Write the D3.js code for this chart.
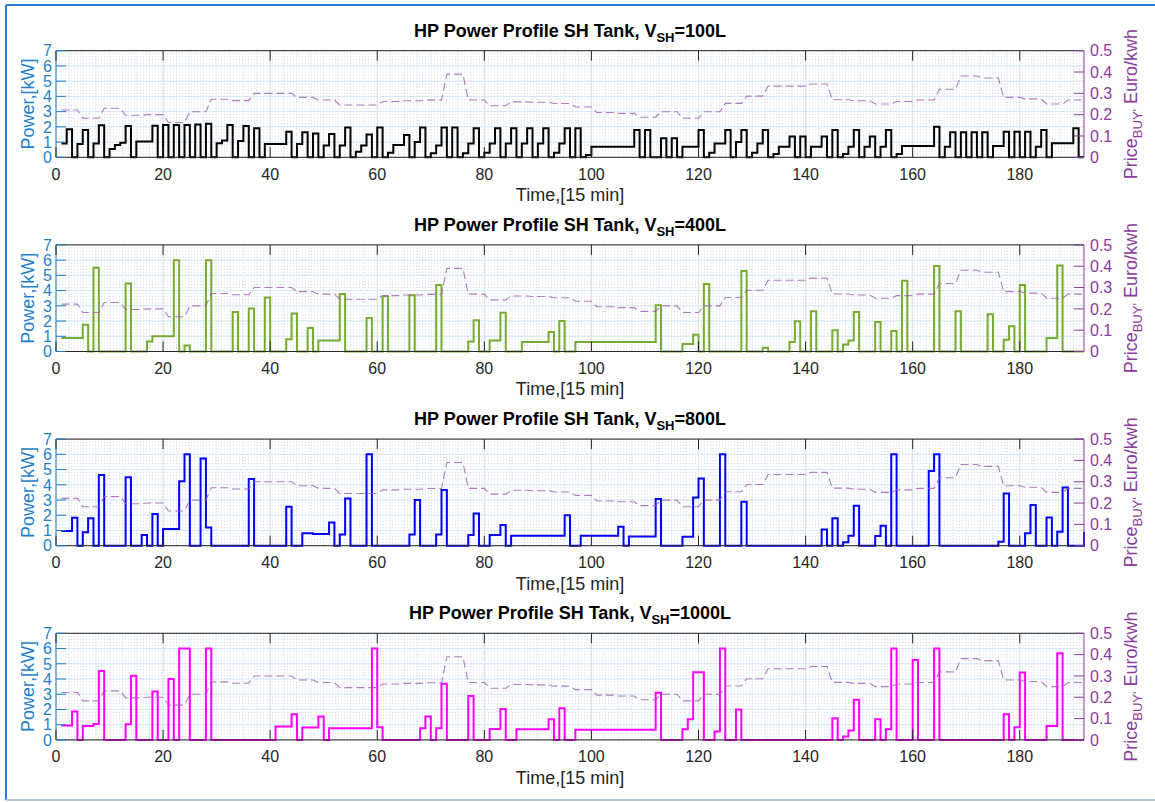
<!DOCTYPE html>
<html lang="en">
<head>
<meta charset="utf-8">
<title>HP Power Profile SH Tank</title>
<script src="https://cdn.jsdelivr.net/npm/d3@7"></script>
<style>
  body { margin: 0; background: #fff; }
  svg text { font-family: "Liberation Sans", Arial, sans-serif; }
</style>
</head>
<body>
<svg id="chart" width="1155" height="802"></svg>
<script>
// time steps (15 min), 1..192
var steps = d3.range(1, 193);

// buy price, Euro/kWh
var priceBuy = [
  0.222,0.222,0.222,0.222, 0.183,0.183,0.183,0.183, 0.23,0.23,0.23,0.23, 0.197,0.197,0.197,0.197,
  0.2,0.2,0.2,0.2, 0.163,0.163,0.163,0.163, 0.214,0.214,0.214,0.214, 0.272,0.272,0.272,0.272,
  0.266,0.266,0.266,0.266, 0.3,0.3,0.3,0.3, 0.3,0.3,0.3,0.3, 0.281,0.281,0.281,0.281,
  0.269,0.269,0.269,0.269, 0.245,0.245,0.245,0.245, 0.245,0.245,0.245,0.245, 0.262,0.262,0.262,0.262,
  0.265,0.265,0.265,0.265, 0.268,0.268,0.268,0.268, 0.39,0.39,0.39,0.39, 0.269,0.269,0.269,0.269,
  0.242,0.242,0.242,0.242, 0.26,0.26,0.26,0.26, 0.258,0.258,0.258,0.258, 0.252,0.252,0.252,0.252,
  0.236,0.236,0.236,0.236, 0.21,0.21,0.21,0.21, 0.206,0.206,0.206,0.206, 0.188,0.188,0.188,0.188,
  0.214,0.214,0.214,0.214, 0.183,0.183,0.183,0.183, 0.214,0.214,0.214,0.214, 0.253,0.253,0.253,0.253,
  0.287,0.287,0.287,0.287, 0.334,0.334,0.334,0.334, 0.334,0.334,0.334,0.334, 0.344,0.344,0.344,0.344,
  0.27,0.27,0.27,0.27, 0.265,0.265,0.265,0.265, 0.25,0.25,0.25,0.25, 0.262,0.262,0.262,0.262,
  0.269,0.269,0.269,0.269, 0.319,0.319,0.319,0.319, 0.381,0.381,0.381,0.381, 0.372,0.372,0.372,0.372,
  0.281,0.281,0.281,0.281, 0.274,0.274,0.274,0.274, 0.25,0.25,0.25,0.25, 0.269,0.269,0.269,0.269
];

// HP power, kW
var power100 = [
  0.9,1.85,0,0.88,1.8,0,0.9,2.1,0,0.55,0.8,0.95,2.05,0,1.03,1.03,
  1.03,2.08,0,2.12,0,2.12,0,2.12,0,2.15,0,2.2,0,0.92,1.1,2.12,
  0,1.07,2.05,0,1.9,0,0.88,0.88,0.88,0.88,1.68,0,0.88,1.64,0,1.57,
  0,0.77,1.53,0,0.77,1.95,0,0.37,0.77,1.5,0,1.95,0,0.3,0.8,0.8,
  1.47,0,1.0,1.95,0,0.26,0.77,1.95,0,1.95,0,0.26,0.9,1.9,0,0.3,
  0.9,1.9,0,0.9,1.9,0,0.9,1.9,0,0.9,1.9,0,0.3,0.9,1.9,0,
  1.9,0,0.15,0.7,0.7,0.7,0.7,0.7,0.7,0.7,0.7,1.8,0,1.8,0,0,
  1.25,0,1.25,0,0.7,0.7,0.7,1.8,0,0.3,0.9,0.9,1.8,0,1.0,1.8,
  0,0.3,0.9,1.8,0,0.22,0.7,0.7,1.36,0,1.36,0,0.7,0.7,1.36,0,
  1.8,0,0.22,0.7,1.8,0,0.7,1.36,0,0.7,1.8,0,0.22,0.74,0.74,0.74,
  0.74,0.74,0.74,2.0,0,0.7,1.64,0,1.64,0,1.64,0,1.64,0,0.74,0.74,
  1.68,0,1.68,0,1.68,0,0.7,1.8,0,0.92,0.92,0.92,0.92,1.9,0,0
];
var power400 = [
  0.88,0.88,0.88,0.88,1.76,0,5.5,0,0,0,0,0,4.47,0,0,0,
  0.66,1.0,1.0,1.0,1.0,6.0,0,0.4,0,0,0,6.0,0,0,0,0,
  2.6,0,0,2.82,0,0,3.55,0,0,0,0.8,2.5,0,0,1.54,0,
  0.73,0.73,0.73,0.73,3.77,0,0,0,0,2.2,0,0,3.63,0,0,0,
  0,3.7,0,0,0,0,4.36,0,0,0,0,0,0.66,2.05,0,0,
  0.73,0.73,2.55,0,0,0,0.62,0.62,0.62,0.62,0.62,1.28,0,2.0,0,0,
  0.62,0.62,0.62,0.62,0.62,0.62,0.62,0.62,0.62,0.62,0.62,0.62,0.62,0.62,0.62,3.04,
  0,0,0,0,0.5,0.5,1.1,0,4.43,0,0,0,0,0,0,5.28,
  0,0,0,0.24,0,0,0,0,0.62,1.98,0,0,2.64,0,0,0,
  1.39,0,0.46,0.73,2.6,0,0,0,1.94,0,0,1.34,0,4.65,0,0,
  0,0,0,5.62,0,0,0,2.64,0,0,0,0,0,2.44,0,0,
  0.77,1.65,0,4.36,0,0,0,0,0.88,0.88,5.64,0,0,0,0,0
];
var power800 = [
  0.96,0.96,1.84,0,0.88,1.8,0,4.64,0,0,0,0,4.49,0,0,0.7,
  0,2.08,0,1.09,1.09,1.09,4.24,6.0,0,0,5.73,1.2,0,0,0,0,
  0,0,0,4.38,0,0,0,0,0,0,2.56,0,0,0.81,0.81,0.77,
  0.77,0.77,1.53,0,0.74,3.1,0,0,0,6.0,0,0,0,0,0,0,
  0,0.74,3.0,0,0,0,0.74,3.65,0,0,0,0,0.7,2.12,0,0,
  0.7,0.7,1.36,0,0.66,0.66,0.66,0.66,0.66,0.66,0.66,0.66,0.66,0.66,2.0,0,
  0,0.66,0.66,0.66,0.66,0.66,0.66,0.66,1.25,0,0.61,0.61,0.61,0.61,0.61,3.06,
  0,0,0,0,0.59,0.59,3.17,4.42,0,0,0,6.0,0,0,0,2.89,
  0,0,0,0,0,0,0,0,0,0,0,0,0,0,1.07,0,
  1.8,0,0.22,0.66,2.63,0,0,0,0.63,1.31,0,6.0,0,0,0,0,
  0,0,4.9,6.0,0,0,0,0,0,0,0,0,0,0,0,0.26,
  3.43,0,0,0,0.81,2.67,0,0,1.86,0,0.92,3.83,0,0,0,0.9
];
var power1000 = [
  0.94,0.94,1.86,0,0.92,0.92,1.05,4.53,0,0,0,0,1.03,4.22,0,0,
  0,3.17,0,0,4.0,0,6.0,6.0,0,0,0,6.0,0,0,0,0,
  0,0,0,0,0,0,0,0,0.88,0.88,0.88,1.68,0,0.81,0.81,0.81,
  1.53,0,0.77,0.77,0.77,0.77,0.77,0.77,0.77,0.77,6.0,0.83,0,0,0,0,
  0,0,0,0.77,1.53,0,0.77,3.68,0,0,0,0,2.89,0,0,0,
  0.72,0.72,2.03,0,0,0.7,0.7,0.7,0.7,0.7,0.7,1.36,0,2.08,0,0,
  0.66,0.66,0.66,0.66,0.66,0.66,0.66,0.66,0.66,0.66,0.66,0.66,0.66,0.66,0.66,3.1,
  0,0,0,0,0.7,1.36,4.44,4.44,0,0,0.55,6.0,0,0,2.0,0,
  0,0,0,0,0,0,0,0,0,0,0,0,0,0,0,0,
  1.42,0,0.22,0.61,2.63,0,0,0,1.36,0,0.7,6.0,0,0,0,5.25,
  0,0,0,6.0,0,0,0,0,0,0,0,0,0,0,0,0,
  1.68,0,0.83,4.42,0,0,0,0,0.92,0.92,5.69,0,0,0,0,0
];

var tankVolumes = ["100L", "400L", "800L", "1000L"];
var powerSeries = [power100, power400, power800, power1000];
var xTicks = d3.range(0, 181, 20);
var yTicksLeft = d3.range(0, 8, 1);
var yTicksRight = [0, 0.1, 0.2, 0.3, 0.4, 0.5];

var lineColors = ["#000000", "#77AC30", "#0000FF", "#FF00FF"];
var leftColor = "#1f7fc8";
var rightColor = "#8b3b9e";
var textColor = "#262626";

var svg = d3.select("#chart");

// figure frame
svg.append("line").attr("x1", 6).attr("x2", 1155).attr("y1", 5).attr("y2", 5)
  .attr("stroke", "#2a7dd1").attr("stroke-width", 2);
svg.append("line").attr("x1", 6).attr("x2", 6).attr("y1", 5).attr("y2", 800)
  .attr("stroke", "#2a7dd1").attr("stroke-width", 2);
svg.append("line").attr("x1", 6).attr("x2", 1155).attr("y1", 800).attr("y2", 800)
  .attr("stroke", "#adc6e3").attr("stroke-width", 2);

var plotLeft = 56, plotRight = 1084, plotH = 106.6;

var x = d3.scaleLinear().domain([0, 192]).range([plotLeft, plotRight]);

tankVolumes.forEach(function (vol, i) {
  var top = 50.7 + i * 194.2;
  var g = svg.append("g").attr("transform", "translate(0," + top + ")");

  var yL = d3.scaleLinear().domain([0, 7]).range([plotH, 0]);
  var yR = d3.scaleLinear().domain([0, 0.5]).range([plotH, 0]);

  // minor grid (dotted)
  g.append("g").selectAll("line")
    .data(d3.range(0, 192.01, 2.5))
    .enter().append("line")
    .attr("x1", function (d) { return x(d); }).attr("x2", function (d) { return x(d); })
    .attr("y1", 0).attr("y2", plotH)
    .attr("stroke", "#c9d3dc").attr("stroke-width", 0.8).attr("stroke-dasharray", "1,2");
  g.append("g").selectAll("line")
    .data(d3.range(0, 7.01, 0.2))
    .enter().append("line")
    .attr("x1", plotLeft).attr("x2", plotRight)
    .attr("y1", function (d) { return yL(d); }).attr("y2", function (d) { return yL(d); })
    .attr("stroke", "#c9d8e6").attr("stroke-width", 0.8).attr("stroke-dasharray", "1,2");

  // major grid
  g.append("g").selectAll("line")
    .data(xTicks)
    .enter().append("line")
    .attr("x1", function (d) { return x(d); }).attr("x2", function (d) { return x(d); })
    .attr("y1", 0).attr("y2", plotH)
    .attr("stroke", "#dde2e7").attr("stroke-width", 1);
  g.append("g").selectAll("line")
    .data(yTicksLeft)
    .enter().append("line")
    .attr("x1", plotLeft).attr("x2", plotRight)
    .attr("y1", function (d) { return yL(d); }).attr("y2", function (d) { return yL(d); })
    .attr("stroke", "#d3e5f3").attr("stroke-width", 1);

  // power stairs
  var stairs = d3.line()
    .x(function (d, k) { return x(steps[k]); })
    .y(function (d) { return yL(d); })
    .curve(d3.curveStepAfter);
  g.append("path")
    .datum(powerSeries[i])
    .attr("d", stairs)
    .attr("fill", "none")
    .attr("stroke", lineColors[i])
    .attr("stroke-width", 2);

  // price line
  var priceLine = d3.line()
    .x(function (d, k) { return x(steps[k]); })
    .y(function (d) { return yR(d); });
  g.append("path")
    .datum(priceBuy)
    .attr("d", priceLine)
    .attr("fill", "none")
    .attr("stroke", "#9c5bb3")
    .attr("stroke-opacity", 0.8)
    .attr("stroke-width", 1.1)
    .attr("stroke-dasharray", "8,4");

  // axes box
  g.append("line").attr("x1", plotLeft).attr("x2", plotRight).attr("y1", plotH).attr("y2", plotH)
    .attr("stroke", textColor).attr("stroke-width", 1);
  g.append("line").attr("x1", plotLeft).attr("x2", plotRight).attr("y1", 0).attr("y2", 0)
    .attr("stroke", textColor).attr("stroke-width", 1);
  g.append("line").attr("x1", plotLeft).attr("x2", plotLeft).attr("y1", 0).attr("y2", plotH)
    .attr("stroke", leftColor).attr("stroke-width", 1);
  g.append("line").attr("x1", plotRight).attr("x2", plotRight).attr("y1", 0).attr("y2", plotH)
    .attr("stroke", rightColor).attr("stroke-width", 1);

  // x ticks (top and bottom, inward)
  xTicks.forEach(function (t) {
    g.append("line").attr("x1", x(t)).attr("x2", x(t)).attr("y1", plotH).attr("y2", plotH - 10)
      .attr("stroke", textColor);
    g.append("line").attr("x1", x(t)).attr("x2", x(t)).attr("y1", 0).attr("y2", 10)
      .attr("stroke", textColor);
    g.append("text").attr("x", x(t)).attr("y", plotH + 22.5)
      .attr("text-anchor", "middle").attr("font-size", 16).attr("fill", textColor)
      .text(t);
  });

  // left ticks
  yTicksLeft.forEach(function (t) {
    g.append("line").attr("x1", plotLeft).attr("x2", plotLeft + 10).attr("y1", yL(t)).attr("y2", yL(t))
      .attr("stroke", leftColor);
    g.append("text").attr("x", 52).attr("y", yL(t)).attr("dy", "0.36em")
      .attr("text-anchor", "end").attr("font-size", 16).attr("fill", leftColor)
      .text(t);
  });

  // right ticks
  yTicksRight.forEach(function (t) {
    g.append("line").attr("x1", plotRight).attr("x2", plotRight - 10).attr("y1", yR(t)).attr("y2", yR(t))
      .attr("stroke", rightColor);
    g.append("text").attr("x", 1090).attr("y", yR(t)).attr("dy", "0.36em")
      .attr("text-anchor", "start").attr("font-size", 16).attr("fill", rightColor)
      .text(t);
  });

  // title
  var title = g.append("text").attr("x", (plotLeft + plotRight) / 2).attr("y", -14)
    .attr("text-anchor", "middle").attr("font-size", 18).attr("font-weight", "bold").attr("fill", "#000");
  title.append("tspan").text("HP Power Profile SH Tank, V");
  title.append("tspan").attr("dy", 5).attr("font-size", 13).text("SH");
  title.append("tspan").attr("dy", -5).text("=" + vol);

  // x label
  g.append("text").attr("x", (plotLeft + plotRight) / 2).attr("y", plotH + 44)
    .attr("text-anchor", "middle").attr("font-size", 18).attr("fill", textColor)
    .text("Time,[15 min]");

  // left label
  g.append("text")
    .attr("transform", "translate(34," + plotH / 2 + ") rotate(-90)")
    .attr("text-anchor", "middle").attr("font-size", 18).attr("fill", leftColor)
    .text("Power,[kW]");

  // right label
  var rl = g.append("text")
    .attr("transform", "translate(1137," + plotH / 2 + ") rotate(-90)")
    .attr("text-anchor", "middle").attr("font-size", 18).attr("fill", rightColor);
  rl.append("tspan").text("Price");
  rl.append("tspan").attr("dy", 5).attr("font-size", 13).text("BUY'");
  rl.append("tspan").attr("dy", -5).text(" Euro/kwh");
});
</script>
</body>
</html>
